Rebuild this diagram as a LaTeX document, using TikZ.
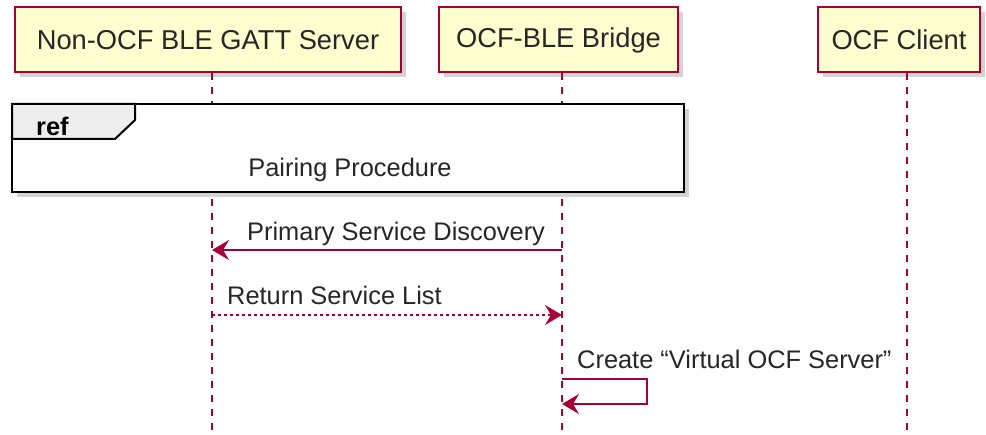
\documentclass[tikz,border=0pt]{standalone}
\usepackage{fontspec}
\setmainfont{Liberation Sans}
\usetikzlibrary{arrows.meta,shadows}
\definecolor{umlred}{HTML}{A80036}
\definecolor{umlfill}{HTML}{FEFECE}
\definecolor{tabfill}{HTML}{EEEEEE}
\tikzset{
  participant/.style={draw=umlred, fill=umlfill, line width=2pt, minimum height=65pt,
    inner sep=0pt, font=\fontsize{27.3}{30}\selectfont, text=black!85,
    drop shadow={shadow xshift=5pt, shadow yshift=-5pt, opacity=0.35}},
  lifeline/.style={draw=umlred, line width=1.5pt, dash pattern=on 7pt off 7pt},
  msg/.style={draw=umlred, line width=2pt, -{Stealth[length=17pt,width=20pt,inset=6pt]}},
  msglabel/.style={font=\fontsize{25.4}{28}\selectfont, text=black!85, inner sep=0pt, anchor=base west},
  refframe/.style={draw=black, line width=2pt, fill=white,
    drop shadow={shadow xshift=5pt, shadow yshift=-5pt, opacity=0.35}},
}
\begin{document}
\begin{tikzpicture}[x=1pt,y=-1pt]
\useasboundingbox (0,0) rectangle (986,435);
% participants
\node[participant, minimum width=386pt] (p1) at (208,40) {Non-OCF BLE GATT Server};
\node[participant, minimum width=239pt] (p2) at (558.5,40) {OCF-BLE Bridge};
\node[participant, minimum width=162pt] (p3) at (899,40) {OCF Client};
% lifeline ends
\coordinate (e1) at (212,435);
\coordinate (e2) at (562,435);
\coordinate (e3) at (907,435);
\draw[lifeline] (212,73) -- (e1);
\draw[lifeline] (562,73) -- (e2);
\draw[lifeline] (907,73) -- (e3);
% ref frame
\draw[refframe] (12,104) rectangle (684,192);
\filldraw[draw=black, fill=tabfill, line width=2pt] (12,104) -- (135,104) -- (135,120) -- (115,139) -- (12,139) -- cycle;
\node[font=\bfseries\fontsize{25.4}{28}\selectfont, inner sep=0pt, anchor=base west] (reflbl) at (36,136) {ref};
\node[font=\fontsize{25.4}{28}\selectfont, text=black!85, inner sep=0pt, anchor=base] (refttl) at (350,177) {Pairing Procedure};
% messages
\coordinate (a1s) at (562,250);
\coordinate (a1e) at (212,250);
\draw[msg] (a1s) -- (a1e);
\node[msglabel] (m1) at (247,241) {Primary Service Discovery};
\coordinate (a2s) at (212,315);
\coordinate (a2e) at (562,315);
\draw[msg, dash pattern=on 3pt off 3pt] (a2s) -- (a2e);
\node[msglabel] (m2) at (227,305) {Return Service List};
\coordinate (a3s) at (562,379);
\coordinate (a3e) at (562,404);
\draw[msg] (a3s) -- (647,379) -- (647,404) -- (a3e);
\node[msglabel] (m3) at (577,369) {Create “Virtual OCF Server”};
\end{tikzpicture}
\end{document}
